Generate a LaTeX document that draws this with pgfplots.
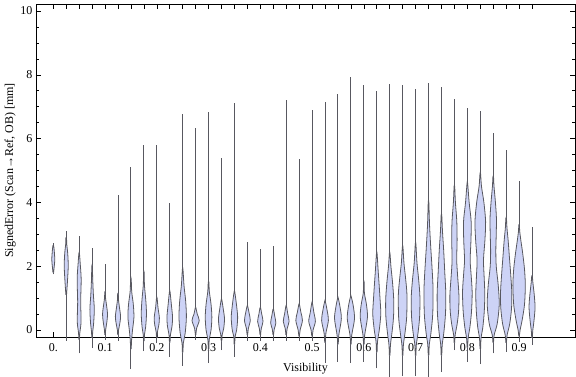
\documentclass[border=0pt]{standalone}
\usepackage{fontspec}
\setmainfont{Liberation Serif}
\usepackage{pgfplots}
\pgfplotsset{compat=1.18}
\definecolor{vfill}{RGB}{205,211,246}
\definecolor{vedge}{RGB}{88,88,96}
% #1 centre, #2 lowest value, #3 highest value, #4 body profile value/half-width(pt)
\newcommand\violin[4]{%
  \addplot[vedge, line width=0.95pt, mark=none] coordinates {(#1,#2) (#1,#3)};
  \gdef\vR{}\gdef\vL{}%
  \foreach \yy/\ww in {#4}{%
    \pgfmathsetmacro\xr{#1+\ww*0.001932}%
    \pgfmathsetmacro\xl{#1-\ww*0.001932}%
    \xdef\vR{\vR (\xr,\yy)}%
    \xdef\vL{(\xl,\yy)\vL}%
  }%
  \edef\tmp{\noexpand\addplot[violin] coordinates {\vR \vL};}%
  \tmp
}
\begin{document}
\begin{tikzpicture}
\path[use as bounding box] (0,0) rectangle (576pt,377pt);
\begin{axis}[
  at={(36pt,40pt)}, anchor=south west,
  scale only axis, width=539pt, height=333pt,
  xmin=-0.0334, xmax=1.008, ymin=-0.22, ymax=10.22,
  clip=false,
  axis line style={line width=0.7pt},
  tick style={black, line width=0.6pt},
  major tick length=5pt, minor tick length=3pt,
  xtick={0,0.025,0.05,0.075,0.1,0.125,0.15,0.175,0.2,0.225,0.25,0.275,0.3,0.325,0.35,0.375,0.4,0.425,0.45,0.475,0.5,0.525,0.55,0.575,0.6,0.625,0.65,0.675,0.7,0.725,0.75,0.775,0.8,0.825,0.85,0.875,0.9,0.925},
  xticklabels={0.,,,,0.1,,,,0.2,,,,0.3,,,,0.4,,,,0.5,,,,0.6,,,,0.7,,,,0.8,,,,0.9,},
  ytick={0,2,4,6,8,10},
  yticklabels={0,2,4,6,8,10},
  minor y tick num=3,
  tick label style={font=\fontsize{12}{14}\selectfont},
  x tick label style={yshift=-3pt},
  label style={font=\fontsize{12}{14}\selectfont},
  xlabel={Visibility},
  xlabel style={yshift=-5pt},
  ylabel={SignedError (Scan→Ref, OB) [mm]},
  ylabel style={yshift=-2pt},
  violin/.style={draw=vedge, fill=vfill, line width=0.8pt, smooth, tension=0.5, mark=none},
]
\violin{0}{1.74}{2.72}{1.8/0.3, 1.95/0.8, 2.2/1.5, 2.5/0.9, 2.65/0.3}
\violin{0.025}{-0.34}{3.11}{1.1/0.3, 1.5/1.2, 2.0/2.0, 2.4/1.5, 2.7/0.5, 2.9/0.3}
\violin{0.05}{-0.73}{2.95}{-0.3/0.3, -0.1/0.6, 0.2/1.8, 0.5/1.8, 0.9/1.5, 1.6/2.0, 2.1/1.0, 2.4/0.3}
\violin{0.075}{-0.57}{2.58}{-0.25/0.3, -0.05/0.6, 0.2/1.5, 0.65/2.2, 1.1/1.3, 1.6/0.6, 2.0/0.3}
\violin{0.1}{-0.31}{2.06}{-0.15/0.3, 0/0.6, 0.25/1.8, 0.5/2.5, 0.75/1.6, 1.0/0.5, 1.2/0.3}
\violin{0.125}{-0.34}{4.23}{-0.15/0.3, 0/0.6, 0.2/1.8, 0.42/2.6, 0.7/1.5, 0.95/0.5, 1.15/0.3}
\violin{0.15}{-1.23}{5.12}{-0.6/0.3, -0.3/0.7, 0/1.6, 0.4/3.0, 0.8/2.4, 1.2/0.8, 1.6/0.3}
\violin{0.175}{-0.66}{5.80}{-0.35/0.3, -0.15/0.6, 0.1/1.8, 0.5/2.6, 0.9/2.0, 1.4/0.6, 1.8/0.3}
\violin{0.2}{-0.42}{5.80}{-0.25/0.3, -0.05/0.7, 0.15/2.0, 0.38/2.6, 0.7/1.2, 1.0/0.3}
\violin{0.225}{-0.84}{3.99}{-0.4/0.3, -0.15/0.7, 0.1/2.2, 0.4/2.8, 0.8/1.6, 1.2/0.3}
\violin{0.25}{-1.12}{6.76}{-0.7/0.3, -0.4/0.7, -0.1/2.5, 0.4/3.7, 0.9/3.0, 1.4/1.3, 1.9/0.3}
\violin{0.275}{-0.31}{6.34}{-0.15/0.3, 0.05/1.0, 0.3/3.6, 0.5/1.6, 0.7/0.3}
\violin{0.3}{-1.04}{6.84}{-0.6/0.3, -0.3/0.7, 0/2.5, 0.4/3.3, 0.8/2.5, 1.2/0.8, 1.5/0.3}
\violin{0.325}{-0.63}{5.40}{-0.35/0.3, -0.15/0.7, 0.05/2.2, 0.35/3.0, 0.65/1.8, 0.95/0.3}
\violin{0.35}{-0.84}{7.11}{-0.45/0.3, -0.2/0.7, 0/2.2, 0.4/3.2, 0.8/2.0, 1.2/0.3}
\violin{0.375}{-0.34}{2.76}{-0.15/0.3, 0.05/1.0, 0.3/2.9, 0.55/1.6, 0.75/0.3}
\violin{0.4}{-0.34}{2.54}{-0.15/0.3, 0.05/1.0, 0.27/2.7, 0.5/1.4, 0.7/0.3}
\violin{0.425}{-0.34}{2.63}{-0.15/0.3, 0.03/1.0, 0.22/2.6, 0.45/1.4, 0.65/0.3}
\violin{0.45}{-0.34}{7.21}{-0.15/0.3, 0.05/1.0, 0.27/2.9, 0.5/1.6, 0.75/0.3}
\violin{0.475}{-0.34}{5.36}{-0.2/0.3, 0/1.0, 0.3/3.3, 0.55/1.8, 0.8/0.3}
\violin{0.5}{-0.34}{6.90}{-0.2/0.3, 0/1.0, 0.27/3.3, 0.55/1.8, 0.85/0.3}
\violin{0.525}{-1.02}{7.15}{-0.4/0.3, -0.1/0.9, 0.3/3.4, 0.6/2.2, 0.9/0.3}
\violin{0.55}{-0.99}{7.41}{-0.45/0.3, -0.15/0.9, 0.35/3.4, 0.7/2.2, 1.0/0.3}
\violin{0.575}{-1.02}{7.94}{-0.45/0.3, -0.15/0.9, 0.35/3.6, 0.75/2.4, 1.05/0.3}
\violin{0.6}{-0.99}{7.67}{-0.45/0.3, -0.15/0.9, 0.4/3.6, 0.8/2.6, 1.15/0.6, 1.5/0.3}
\violin{0.625}{-1.20}{7.49}{-0.7/0.3, -0.35/0.8, 0/2.5, 0.5/4.0, 1.0/3.2, 1.4/2.4, 1.9/1.3, 2.4/0.3}
\violin{0.65}{-1.46}{7.70}{-0.8/0.3, -0.45/0.8, -0.1/2.2, 0.4/3.8, 0.95/4.0, 1.5/2.8, 2.0/1.2, 2.4/0.3}
\violin{0.675}{-1.45}{7.68}{-0.8/0.3, -0.45/0.8, -0.1/2.3, 0.4/4.0, 1.1/4.3, 1.6/3.0, 2.1/1.3, 2.6/0.3}
\violin{0.7}{-1.45}{7.55}{-0.8/0.3, -0.45/0.8, -0.1/2.4, 0.4/4.0, 1.05/4.3, 1.6/3.0, 2.1/1.4, 2.7/0.3}
\violin{0.725}{-1.46}{7.74}{-0.8/0.3, -0.45/0.8, -0.1/2.4, 0.5/4.2, 1.3/4.5, 2.0/3.4, 2.6/2.2, 3.3/1.0, 4.0/0.3}
\violin{0.75}{-1.31}{7.61}{-0.8/0.3, -0.45/0.8, -0.1/2.3, 0.5/4.0, 1.15/4.3, 1.8/3.3, 2.5/2.2, 3.1/1.0, 3.6/0.3}
\violin{0.775}{-0.63}{7.24}{-0.4/0.3, -0.15/0.8, 0.2/2.8, 0.6/4.2, 1.1/4.5, 1.7/3.2, 2.2/2.3, 2.8/2.7, 3.4/2.4, 4.0/1.0, 4.5/0.3}
\violin{0.8}{-0.99}{6.97}{-0.55/0.3, -0.25/0.8, 0.1/2.6, 0.6/4.2, 1.2/4.8, 1.8/3.6, 2.2/2.8, 2.8/3.6, 3.4/3.8, 4.0/1.8, 4.6/0.3}
\violin{0.825}{-1.07}{6.87}{-0.6/0.3, -0.25/0.8, 0.1/2.6, 0.6/4.0, 1.15/4.5, 1.7/3.8, 2.2/3.2, 2.8/4.6, 3.4/5.3, 4.0/3.6, 4.5/1.2, 4.9/0.3}
\violin{0.85}{-0.73}{6.17}{-0.4/0.3, -0.15/1.0, 0.2/4.0, 0.8/6.0, 1.4/5.0, 2.0/3.0, 2.5/2.6, 3.0/3.0, 3.5/3.2, 4.0/2.2, 4.5/0.8, 4.8/0.3}
\violin{0.875}{-0.68}{5.64}{-0.4/0.3, -0.15/1.0, 0.2/3.6, 0.7/5.4, 1.2/5.6, 1.8/4.4, 2.3/3.2, 2.8/2.0, 3.2/0.8, 3.5/0.3}
\violin{0.9}{-0.37}{4.67}{-0.2/0.3, 0/1.0, 0.3/3.0, 0.8/5.4, 1.4/6.2, 1.9/5.4, 2.4/3.6, 2.8/1.8, 3.1/0.6, 3.3/0.3}
\violin{0.925}{-0.47}{3.24}{-0.25/0.3, 0/0.8, 0.25/1.8, 0.7/3.0, 1.1/2.2, 1.5/0.8, 1.7/0.3}
\end{axis}
\end{tikzpicture}
\end{document}
